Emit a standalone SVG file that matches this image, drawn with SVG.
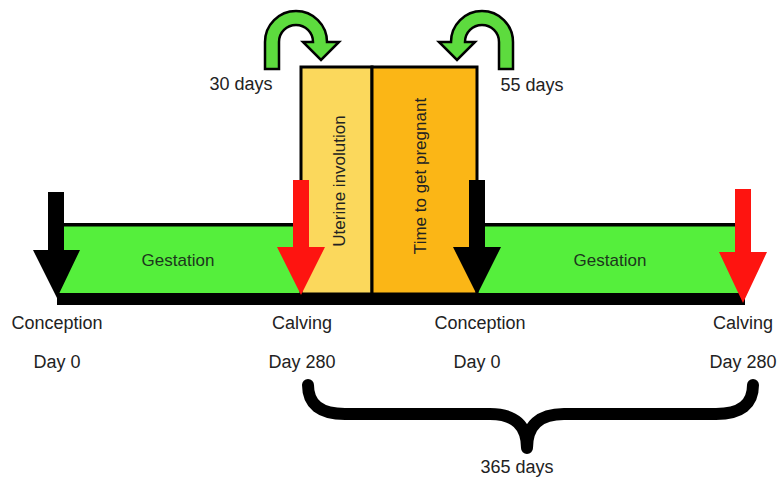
<svg xmlns="http://www.w3.org/2000/svg" width="777" height="479" viewBox="0 0 777 479">
<style>
  .t { font-family: "Liberation Sans", Arial, sans-serif; font-size: 17px; fill: #222; text-anchor: middle; }
  .lb { font-size: 18px; }
  .g { fill: #1c361c; }
  .bar { fill: #55ef3c; }
  .line { fill: #000; }
  .curl { fill: #5ddb3e; stroke: #000; stroke-width: 2.5; stroke-linejoin: miter; }
  .box { stroke: #000; stroke-width: 3; }
  .red { fill: #fe1410; }
  .blk { fill: #000; }
</style>
<rect width="777" height="479" fill="#fff"/>

<g id="gestation1">
  <rect class="bar" x="56" y="225" width="245" height="69"/>
  <rect class="line" x="56" y="223" width="245" height="3.5"/>
  <text class="t g" x="178" y="266">Gestation</text>
</g>
<g id="gestation2">
  <rect class="bar" x="477" y="225" width="266" height="69"/>
  <rect class="line" x="477" y="223" width="266" height="3.5"/>
  <text class="t g" x="610" y="266">Gestation</text>
</g>

<g id="uterine-involution">
  <rect class="box" x="301" y="67" width="71" height="227" fill="#fbd85c"/>
  <text class="t" transform="translate(345,181) rotate(-90)">Uterine involution</text>
</g>
<g id="time-to-get-pregnant">
  <rect class="box" x="372" y="67" width="105" height="227" fill="#fbb616"/>
  <text class="t" transform="translate(426,176) rotate(-90)">Time to get pregnant</text>
</g>

<g id="timeline">
  <rect class="line" x="57" y="293" width="688" height="12"/>
</g>

<g id="connectors">
  <path class="curl" d="M 265 69 L 265 42 A 31 31 0 0 1 327 42 L 339 42 L 321 60 L 303 42 L 313 42 A 17 17 0 0 0 279 42 L 279 69 Z"/>
  <path class="curl" d="M 513 69 L 513 42 A 31 31 0 0 0 451 42 L 439 42 L 457 60 L 475 42 L 465 42 A 17 17 0 0 1 499 42 L 499 69 Z"/>
  <path class="blk" d="M 48 192 L 64 192 L 64 250 L 80 250 L 57 298 L 33 250 L 48 250 Z"/>
  <path class="red" d="M 293 180 L 309 180 L 309 247 L 325 247 L 301 295 L 277 247 L 293 247 Z"/>
  <path class="blk" d="M 469 180 L 485 180 L 485 247 L 501 247 L 477 295 L 453 247 L 469 247 Z"/>
  <path class="red" d="M 735 189 L 751 189 L 751 252 L 767 252 L 743 303 L 719 252 L 735 252 Z"/>
  <path d="M 308 385 Q 308 414 345 414 L 490 414 Q 527 414 527 448 Q 527 414 564 414 L 716 414 Q 753 414 753 385" fill="none" stroke="#000" stroke-width="12" stroke-linecap="round" stroke-linejoin="round"/>
</g>

<g id="labels">
  <text class="t lb" x="241" y="90">30 days</text>
  <text class="t lb" x="532" y="91">55 days</text>
  <text class="t lb" x="57" y="329">Conception</text>
  <text class="t lb" x="57" y="368">Day 0</text>
  <text class="t lb" x="302" y="329">Calving</text>
  <text class="t lb" x="302" y="368">Day 280</text>
  <text class="t lb" x="480" y="329">Conception</text>
  <text class="t lb" x="477" y="368">Day 0</text>
  <text class="t lb" x="743" y="329">Calving</text>
  <text class="t lb" x="743" y="368">Day 280</text>
  <text class="t lb" x="517" y="473">365 days</text>
</g>
</svg>
